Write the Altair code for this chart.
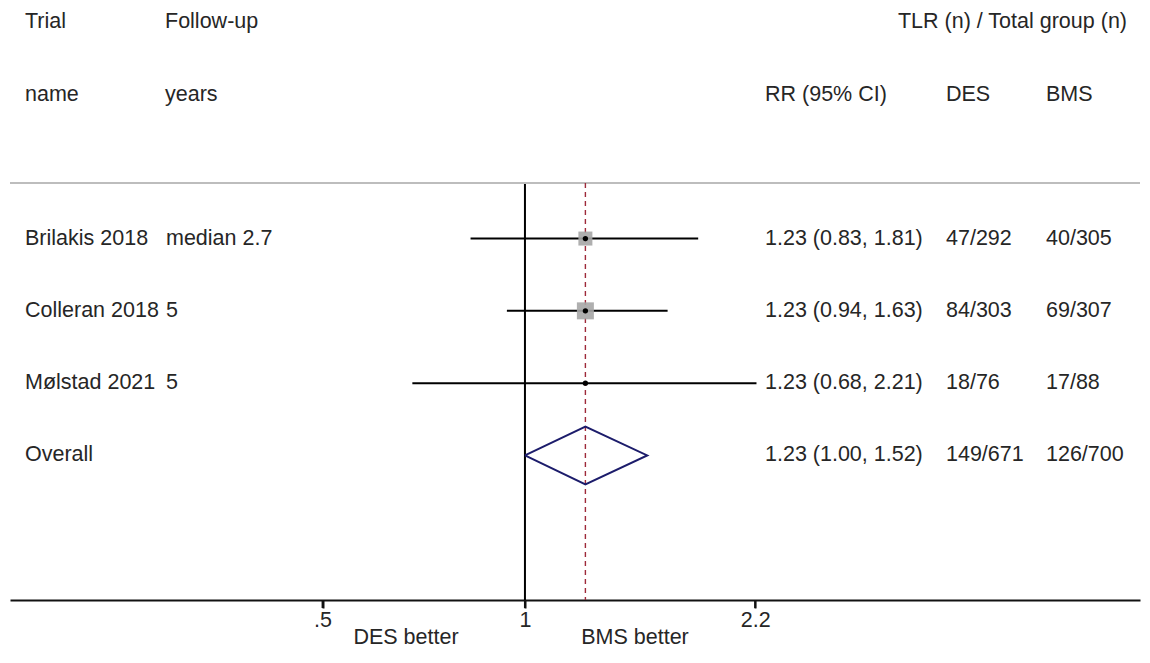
import altair as alt
import pandas as pd

# ---- data ----
trials = ["Brilakis 2018", "Colleran 2018", "Mølstad 2021", "Overall"]
followup = ["median 2.7", "5", "5", ""]
rr = [1.23, 1.23, 1.23, 1.23]
lo = [0.83, 0.94, 0.68, 1.00]
hi = [1.81, 1.63, 2.21, 1.52]
des = ["47/292", "84/303", "18/76", "149/671"]
bms = ["40/305", "69/307", "17/88", "126/700"]
weight = [196, 289, 0]          # marker area of study squares
row = [1, 2, 3, 4]
ticks = [0.5, 1, 2.2]

FONT = "Liberation Sans"
FS = 21.5
TXT = "#262626"

studies = pd.DataFrame({
    "trial": trials[:3], "follow": followup[:3], "rr": rr[:3], "lo": lo[:3],
    "hi": hi[:3], "w": weight, "row": row[:3],
})
table = pd.DataFrame({
    "trial": trials, "follow": followup, "row": row, "des": des, "bms": bms,
    "rrtxt": [f"{r:.2f} ({l:.2f}, {h:.2f})" for r, l, h in zip(rr, lo, hi)],
})
diamond = pd.DataFrame({
    "x": [lo[3], rr[3], hi[3], rr[3], lo[3]],
    "y": [4, 3.6, 4, 4.4, 4],
    "ord": [0, 1, 2, 3, 4],
})
tickdf = pd.DataFrame({"t": ticks})

xs = alt.Scale(type="log", domain=[0.1714, 8.22], nice=False, zero=False)
xaxis = alt.Axis(values=ticks, grid=False, title=None, domainColor="#111111", domainWidth=2,
                 ticks=True, tickColor="#111111", tickWidth=2, tickSize=8, tickOpacity=1,
                 labelFontSize=FS, labelFont=FONT,
                 labelColor=TXT, labelPadding=1, labelFlush=False,
                 labelExpr="datum.value == 0.5 ? '.5' : datum.label")
X = lambda f: alt.X(f, type="quantitative", scale=xs, axis=xaxis)
Y = lambda f: alt.Y(f, type="quantitative",
                    scale=alt.Scale(domain=[6.0, -2.3], nice=False, zero=False), axis=None)

one = alt.Chart(pd.DataFrame({"a": [0]}))

sep = one.mark_rule(color="#bdbdbd", strokeWidth=2).transform_calculate(s="0.23").encode(
    x=alt.value(0), x2=alt.value(1130), y=Y("s"))

vline = one.mark_rule(color="black", strokeWidth=2).transform_calculate(
    v="1", y1="0.23", y2="6.0").encode(x=X("v"), y=Y("y1"), y2="y2:Q")

refline = one.mark_rule(color="#9e2a3a", strokeWidth=1.4, strokeDash=[5, 4]).transform_calculate(
    v=str(rr[3]), y1="0.23", y2="6.0").encode(x=X("v"), y=Y("y1"), y2="y2:Q")

tickmarks = alt.Chart(tickdf).mark_rule(color="#111111", strokeWidth=2, clip=False).encode(
    x=X("t"), y=alt.value(600), y2=alt.value(608))

ci = alt.Chart(studies).mark_rule(color="black", strokeWidth=2).encode(
    x=X("lo"), x2="hi:Q", y=Y("row"))

squares = alt.Chart(studies).mark_square(color="#a6a6a6", opacity=0.9).encode(
    x=X("rr"), y=Y("row"), size=alt.Size("w:Q", scale=None, legend=None))

dots = alt.Chart(studies).mark_circle(color="black", size=28, opacity=1).encode(
    x=X("rr"), y=Y("row"))

dia = alt.Chart(diamond).mark_line(color="#1c1c6b", strokeWidth=2).encode(
    x=X("x"), y=Y("y"), order="ord:Q")


def col(field, px, align="left"):
    return alt.Chart(table).mark_text(align=align, baseline="middle", font=FONT,
                                      fontSize=FS, color=TXT).encode(
        x=alt.value(px), y=Y("row"), text=f"{field}:N")


def label(t, px, r, align="left"):
    return alt.Chart(pd.DataFrame({"t": [t], "r": [r]})).mark_text(
        align=align, baseline="middle", font=FONT, fontSize=FS, color=TXT).encode(
        x=alt.value(px), y=Y("r"), text="t:N")


def below(t, px):
    return alt.Chart(pd.DataFrame({"t": [t]})).mark_text(
        align="center", baseline="middle", font=FONT, fontSize=FS, color=TXT).encode(
        x=alt.value(px), y=alt.value(638), text="t:N")


texts = [col("trial", 15), col("follow", 156), col("rrtxt", 755),
         col("des", 936), col("bms", 1036)]
headers = [label("Trial", 15, -2.0), label("Follow-up", 155, -2.0),
           label("name", 15, -0.98), label("years", 155, -0.98),
           label("RR (95% CI)", 755, -0.98), label("DES", 936, -0.98),
           label("BMS", 1036, -0.98),
           label("TLR (n) / Total group (n)", 1117, -2.0, align="right")]
betters = [below("DES better", 396), below("BMS better", 625)]

chart = alt.layer(
    vline, sep, refline, tickmarks, ci, squares, dots, dia, *texts, *headers, *betters
).properties(
    width=1130, height=600,
    autosize=alt.AutoSizeParams(type="none"),
    padding={"left": 10, "top": 0, "right": 10, "bottom": 63},
    background="white",
).configure_view(stroke=None)

chart.save("out.html", embed_options={"renderer": "svg", "actions": False})
